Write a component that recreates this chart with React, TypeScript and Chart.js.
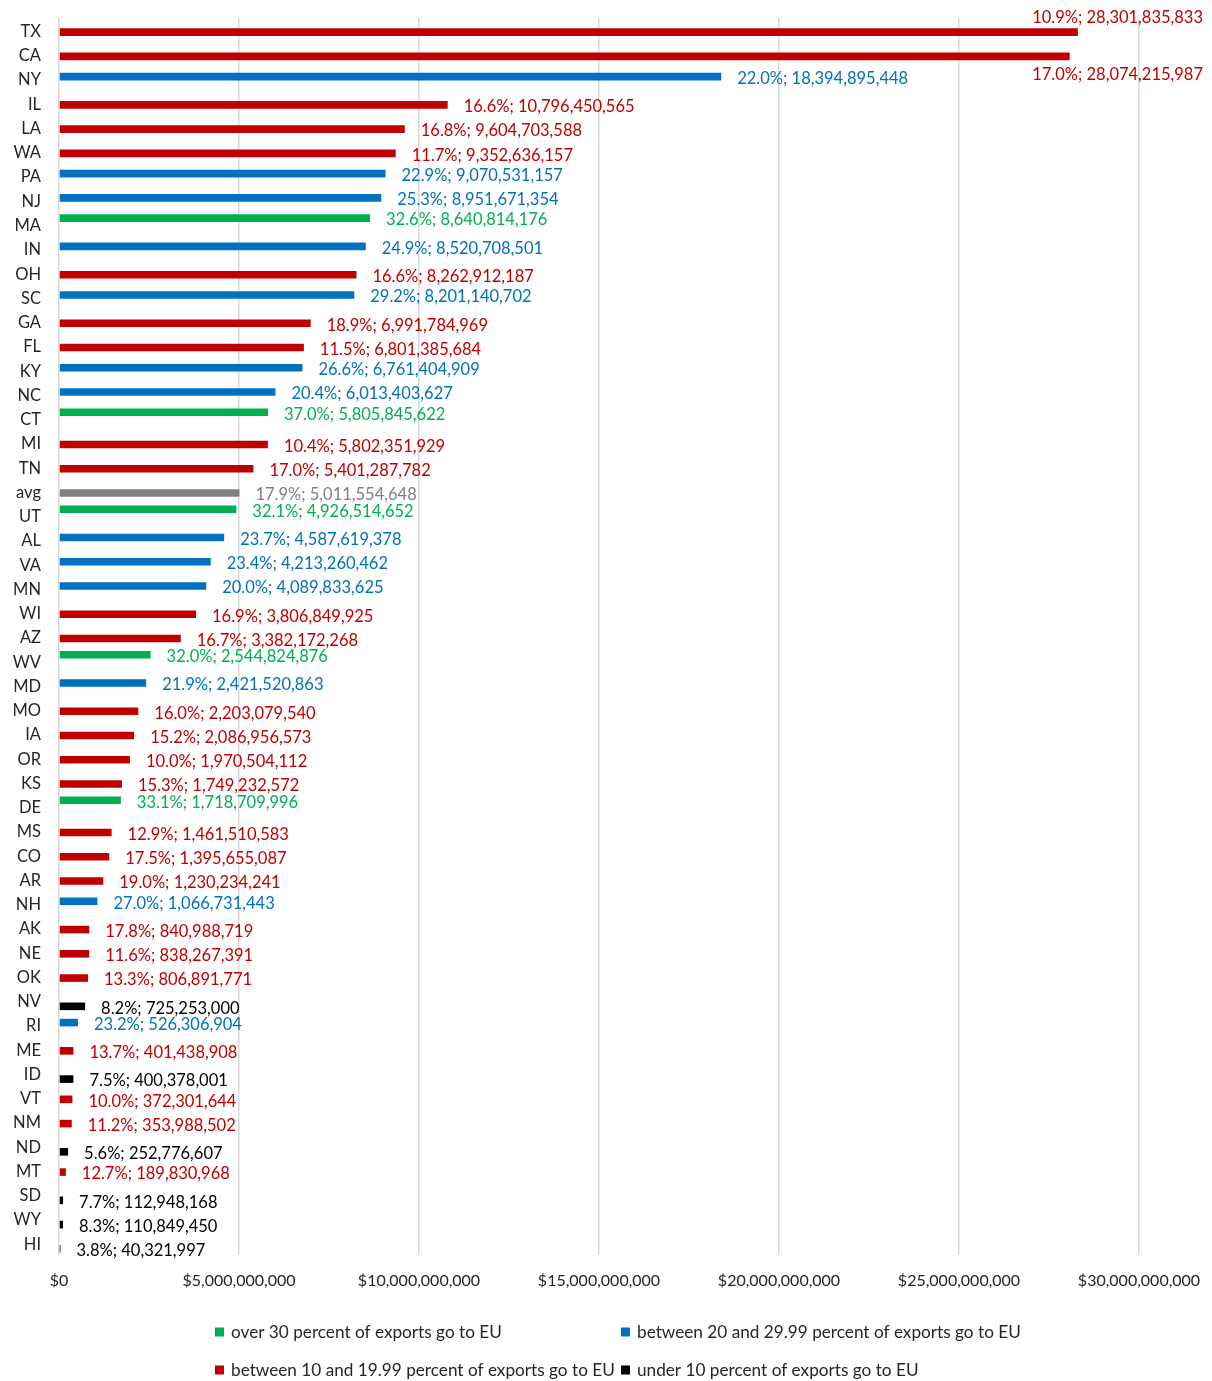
import React, { useEffect, useRef } from "react";
import { Chart, registerables } from "chart.js";

Chart.register(...registerables);

// Merchandise exports by state, with the share going to the EU
const STATES = [
  "TX", "CA", "NY", "IL", "LA", "WA", "PA", "NJ", "MA", "IN", "OH", "SC", "GA", "FL", "KY", "NC", "CT",
  "MI", "TN", "avg", "UT", "AL", "VA", "MN", "WI", "AZ", "WV", "MD", "MO", "IA", "OR", "KS", "DE", "MS",
  "CO", "AR", "NH", "AK", "NE", "OK", "NV", "RI", "ME", "ID", "VT", "NM", "ND", "MT", "SD", "WY", "HI",
];

const EXPORTS = [
  28301835833, 28074215987, 18394895448, 10796450565, 9604703588, 9352636157, 9070531157, 8951671354,
  8640814176, 8520708501, 8262912187, 8201140702, 6991784969, 6801385684, 6761404909, 6013403627,
  5805845622, 5802351929, 5401287782, 5011554648, 4926514652, 4587619378, 4213260462, 4089833625,
  3806849925, 3382172268, 2544824876, 2421520863, 2203079540, 2086956573, 1970504112, 1749232572,
  1718709996, 1461510583, 1395655087, 1230234241, 1066731443, 840988719, 838267391, 806891771,
  725253000, 526306904, 401438908, 400378001, 372301644, 353988502, 252776607, 189830968,
  112948168, 110849450, 40321997,
];

const EU_SHARE = [
  10.9, 17.0, 22.0, 16.6, 16.8, 11.7, 22.9, 25.3, 32.6, 24.9, 16.6, 29.2, 18.9, 11.5, 26.6, 20.4, 37.0,
  10.4, 17.0, 17.9, 32.1, 23.7, 23.4, 20.0, 16.9, 16.7, 32.0, 21.9, 16.0, 15.2, 10.0, 15.3, 33.1, 12.9,
  17.5, 19.0, 27.0, 17.8, 11.6, 13.3, 8.2, 23.2, 13.7, 7.5, 10.0, 11.2, 5.6, 12.7, 7.7, 8.3, 3.8,
];

const X_MAX = 30000000000;
const X_STEP = 5000000000;
const AVERAGE_LABEL = "avg";

const GROUPS = [
  { label: "over 30 percent of exports go to EU", color: "#00B050", min: 30, max: Infinity },
  { label: "between 20 and 29.99 percent of exports go to EU", color: "#0070C0", min: 20, max: 30 },
  { label: "between 10 and 19.99 percent of exports go to EU", color: "#C00000", min: 10, max: 20 },
  { label: "under 10 percent of exports go to EU", color: "#000000", min: -Infinity, max: 10 },
];
const AVERAGE_COLOR = "#808080";

const W = 1212;
const H = 1381;
const FONT = "Lato, 'Noto Sans', sans-serif";
const TEXT_COLOR = "#262626";

const groupOf = (share: number) => GROUPS.findIndex((g) => share >= g.min && share < g.max);

const fmtInt = (v: number) => Math.round(v).toLocaleString("en-US");

const pointColor = (groupIdx: number, i: number) =>
  STATES[i] === AVERAGE_LABEL ? AVERAGE_COLOR : GROUPS[groupIdx].color;

// Value labels: "share%; exports" to the right of each bar
const valueLabels = {
  id: "valueLabels",
  afterDatasetsDraw(chart: any) {
    const ctx = chart.ctx as CanvasRenderingContext2D;
    ctx.save();
    ctx.font = `16.5px ${FONT}`;
    ctx.textBaseline = "middle";
    const overflowed: boolean[] = [];
    const items: { x: number; y: number; i: number; text: string; color: string }[] = [];
    chart.data.datasets.forEach((ds: any, di: number) => {
      const meta = chart.getDatasetMeta(di);
      meta.data.forEach((el: any, i: number) => {
        const v = ds.data[i];
        if (v === null || v === undefined) return;
        items.push({
          x: el.x,
          y: el.y,
          i,
          text: `${EU_SHARE[i].toFixed(1)}%; ${fmtInt(EXPORTS[i])}`,
          color: pointColor(di, i),
        });
      });
    });
    items.sort((a, b) => a.i - b.i);
    items.forEach((it) => {
      const w = ctx.measureText(it.text).width;
      ctx.fillStyle = it.color;
      if (it.x + 16 + w > W - 8) {
        // No room at the bar end: tuck the label against the right edge
        overflowed[it.i] = true;
        const above = !overflowed[it.i - 1];
        ctx.textAlign = "right";
        ctx.fillText(it.text, W - 9, it.y + (above ? -14 : 18));
      } else {
        ctx.textAlign = "left";
        ctx.fillText(it.text, it.x + 16, it.y + 2);
      }
    });
    ctx.restore();
  },
};

// Two-column legend under the axis
const gridLegend = {
  id: "gridLegend",
  afterDraw(chart: any) {
    const ctx = chart.ctx as CanvasRenderingContext2D;
    const cols = [215, 621];
    const rows = [1332, 1370];
    ctx.save();
    ctx.font = `17.2px ${FONT}`;
    ctx.textBaseline = "middle";
    ctx.textAlign = "left";
    GROUPS.forEach((g, k) => {
      const x = cols[k % 2];
      const y = rows[Math.floor(k / 2)];
      ctx.fillStyle = g.color;
      ctx.fillRect(x, y - 4.5, 9, 9);
      ctx.fillStyle = TEXT_COLOR;
      ctx.fillText(g.label, x + 16, y + 0.5);
    });
    ctx.restore();
  },
};

const noEdgePadding = (s: any) => {
  s.paddingTop = 0;
  s.paddingBottom = 0;
  s.paddingLeft = 0;
  s.paddingRight = 0;
};

export default function App() {
  const ref = useRef<HTMLCanvasElement | null>(null);

  useEffect(() => {
    if (!ref.current) return;
    const datasets = GROUPS.map((g, gi) => ({
      label: g.label,
      data: EXPORTS.map((v, i) => (groupOf(EU_SHARE[i]) === gi ? v : null)),
      backgroundColor: STATES.map((_, i) => pointColor(gi, i)),
      borderWidth: 0,
      categoryPercentage: 0.66,
      barPercentage: 1.9,
    }));

    const chart = new Chart(ref.current, {
      type: "bar",
      data: { labels: STATES, datasets },
      options: {
        indexAxis: "y",
        responsive: false,
        animation: false,
        layout: { padding: { top: 18, right: 73, left: 0, bottom: 0 } },
        plugins: {
          legend: { display: false },
          tooltip: { enabled: false },
        },
        scales: {
          x: {
            min: 0,
            max: X_MAX,
            ticks: {
              stepSize: X_STEP,
              autoSkip: false,
              maxRotation: 0,
              padding: 16,
              color: TEXT_COLOR,
              font: { family: FONT, size: 16 },
              callback: (v: any) => "$" + fmtInt(Number(v)),
            },
            grid: { color: "#D9D9D9", lineWidth: 1.5, drawTicks: false },
            border: { display: false },
            afterFit: (s: any) => {
              s.height = H - 1255;
              noEdgePadding(s);
            },
          },
          y: {
            ticks: {
              autoSkip: false,
              padding: 18,
              labelOffset: 1.5,
              color: TEXT_COLOR,
              font: { family: FONT, size: 16.5 },
            },
            grid: { display: false, drawTicks: false },
            border: { display: false },
            afterFit: (s: any) => {
              s.width = 59;
              noEdgePadding(s);
            },
          },
        },
      },
      plugins: [valueLabels, gridLegend],
    });
    return () => chart.destroy();
  }, []);

  return (
    <canvas
      ref={ref}
      width={W}
      height={H}
      style={{ position: "absolute", left: 0, top: 0, width: W, height: H, background: "#ffffff" }}
    />
  );
}
